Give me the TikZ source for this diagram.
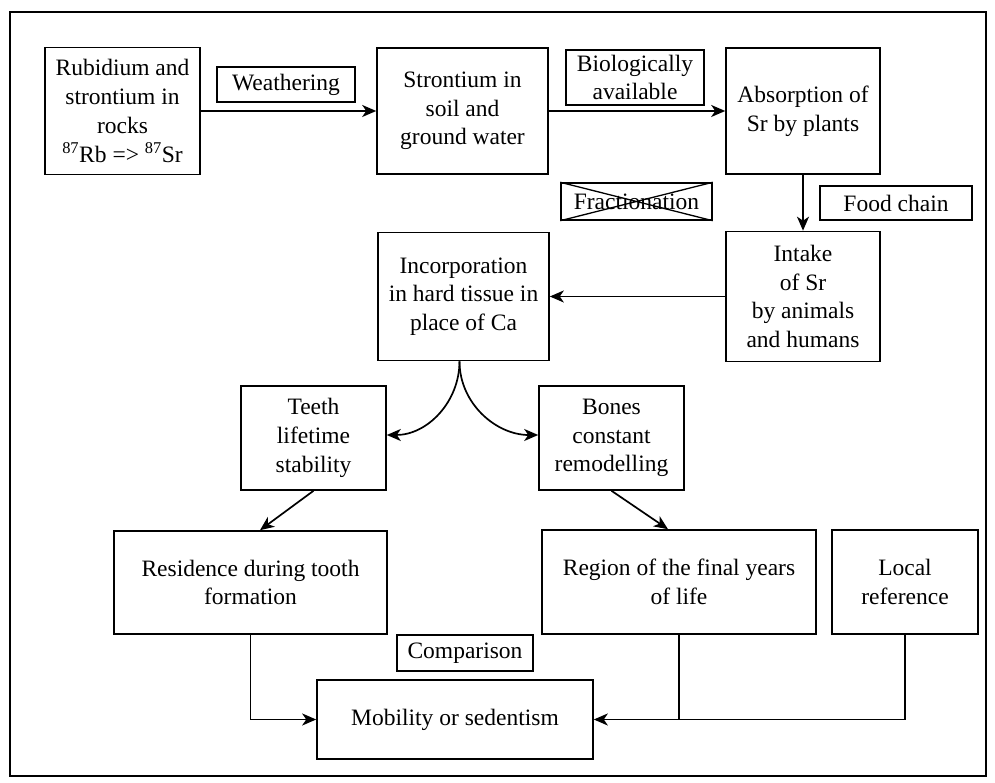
\documentclass[tikz,border=0pt]{standalone}
\usepackage{fontspec}
\setmainfont{Liberation Serif}
\usetikzlibrary{arrows.meta,calc}
\tikzstyle{stageBox}=[shape = rectangle, draw, line width = 1.6pt, align = center, inner sep = 0pt, font = \fontsize{23.5}{28.7}\selectfont]
\tikzstyle{tagBox}=[shape = rectangle, draw, line width = 1.4pt, align = center, inner sep = 0pt, font = \fontsize{23.5}{28.7}\selectfont]

\begin{document}
\begin{tikzpicture}[x = 1pt, y = 1pt]
\tikzstyle{flowEdge}=[line width = 1.7pt, -{Stealth[length = 14pt, width = 12pt, inset = 4pt]}]
\tikzstyle{plainEdge}=[line width = 1.7pt]
\useasboundingbox (0,0) rectangle (995,783);
\draw[line width = 1.4pt] (10,7) rectangle (986,771);
\node[stageBox, minimum width = 155pt, minimum height = 127pt] (rocks) at (122.5,672) {Rubidium and\\strontium in\\rocks\\\textsuperscript{87}Rb => \textsuperscript{87}Sr};
\node[tagBox, minimum width = 138pt, minimum height = 35pt] (weather) at (286,698.5) {Weathering};
\node[stageBox, minimum width = 171pt, minimum height = 126pt] (soil) at (462.5,672) {Strontium in\\soil and\\ground water};
\node[tagBox, minimum width = 138pt, minimum height = 55pt] (bio) at (635,705.5) {Biologically\\available};
\node[stageBox, minimum width = 154pt, minimum height = 126pt] (plants) at (803,672) {Absorption of\\Sr by plants};
\node[tagBox, minimum width = 151pt, minimum height = 37pt] (frac) at (636.5,581.5) {Fractionation};
\node[tagBox, minimum width = 152pt, minimum height = 34pt] (food) at (896,580) {Food chain};
\node[stageBox, minimum width = 154pt, minimum height = 130pt] (intake) at (803,486.5) {Intake\\of Sr\\by animals\\and humans};
\node[stageBox, minimum width = 171pt, minimum height = 128pt] (inc) at (463.5,486.5) {Incorporation\\in hard tissue in\\place of Ca};
\node[stageBox, minimum width = 145pt, minimum height = 104pt] (teeth) at (313.5,345) {Teeth\\lifetime\\stability};
\node[stageBox, minimum width = 145pt, minimum height = 104pt] (bones) at (611.5,345) {Bones\\constant\\remodelling};
\node[stageBox, minimum width = 273pt, minimum height = 103pt] (res) at (250.5,200.5) {Residence during tooth\\formation};
\node[stageBox, minimum width = 274pt, minimum height = 104pt] (region) at (679,201) {Region of the final years\\of life};
\node[stageBox, minimum width = 146pt, minimum height = 104pt] (local) at (905,201) {Local\\reference};
\node[tagBox, minimum width = 136pt, minimum height = 36pt] (comp) at (465,130) {Comparison};
\node[stageBox, minimum width = 276pt, minimum height = 79pt] (mob) at (455,63.5) {Mobility or sedentism};
\draw[plainEdge, line width = 1.3pt] (frac.north west) -- (frac.south east) (frac.south west) -- (frac.north east);
\draw[flowEdge] (rocks) -- (soil);
\draw[flowEdge] (soil) -- (plants);
\draw[flowEdge] (plants) -- (intake);
\draw[flowEdge] (intake) -- (inc);
\draw[flowEdge] ($(inc.south)+(-4,0)$) to[out = -90, in = 0] ($(teeth.east)+(0,3)$);
\draw[flowEdge] ($(inc.south)+(-4,0)$) to[out = -90, in = 180] ($(bones.west)+(0,3)$);
\draw[flowEdge] (teeth.south) -- ($(res.north)+(9.5,0)$);
\draw[flowEdge] (bones.south) -- ($(region.north)+(-11,0)$);
\draw[flowEdge] (res.south) |- (mob.west);
\draw[flowEdge] (local.south) |- (mob.east);
\draw[plainEdge] (region.south) -- (region.south |- mob.east);
\end{tikzpicture}
\end{document}
